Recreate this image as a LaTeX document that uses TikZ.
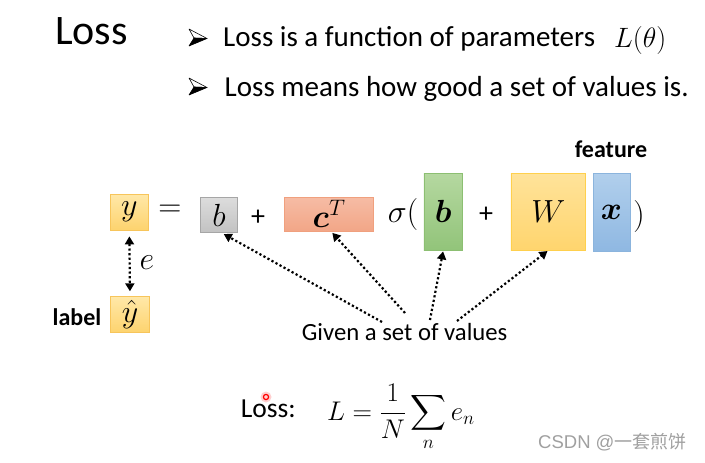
\RequirePackage{fix-cm}
\documentclass[tikz,border=0pt]{standalone}
\usepackage{amsmath,bm}
\usepackage{fontspec}
\setmainfont{Carlito}
\newfontfamily\cjkfont{Noto Sans CJK SC}
\newfontfamily\wmfont{Liberation Sans}
\usetikzlibrary{arrows.meta,calc}
\definecolor{ytop}{HTML}{FFE8A8}\definecolor{ybot}{HTML}{FDD36E}\definecolor{ybord}{HTML}{F7C55B}
\definecolor{gtop}{HTML}{DCDCDC}\definecolor{gbot}{HTML}{C2C2C2}\definecolor{gbord}{HTML}{A6A6A6}
\definecolor{stop}{HTML}{F6BCA5}\definecolor{sbot}{HTML}{F2A687}\definecolor{sbord}{HTML}{F0A07E}
\definecolor{grtop}{HTML}{B5D8A0}\definecolor{grbot}{HTML}{92C47A}\definecolor{grbord}{HTML}{8CBF72}
\definecolor{wtop}{HTML}{FFE39A}\definecolor{wbot}{HTML}{FFD56E}\definecolor{wbord}{HTML}{FFD04D}
\definecolor{btop}{HTML}{B1CFEC}\definecolor{bbot}{HTML}{8FB8E2}\definecolor{bbord}{HTML}{8BB4DD}
\definecolor{wmgray}{HTML}{A0A0A0}
\begin{document}
\begin{tikzpicture}[x=1pt,y=-1pt,
  box/.style={draw, line width=0.8pt, inner sep=0pt, font=\fontsize{32}{38}\selectfont},
  ybox/.style={box, draw=ybord, top color=ytop, bottom color=ybot},
  graybox/.style={box, draw=gbord, top color=gtop, bottom color=gbot},
  salbox/.style={box, draw=sbord, top color=stop, bottom color=sbot},
  grbox/.style={box, draw=grbord, top color=grtop, bottom color=grbot},
  wbox/.style={box, draw=wbord, top color=wtop, bottom color=wbot},
  bbox/.style={box, draw=bbord, top color=btop, bottom color=bbot},
  eqtext/.style={inner sep=0pt, font=\fontsize{32}{38}\selectfont},
  plustext/.style={inner sep=0pt, font=\fontsize{28}{34}\selectfont},
  dotarrow/.style={line width=2.2pt, dash pattern=on 2.2pt off 2.4pt, -{Triangle[length=8pt,width=9pt]}},
  bularrow/.pic={
    \filldraw[fill=white, draw=black, line width=0.6pt, line join=round] (-9,-9) -- (9,0.5) -- (-4,0) -- cycle;
    \filldraw[fill=black, draw=black, line width=0.6pt, line join=round] (-4,0) -- (9,0.5) -- (-9,8) -- cycle;
  }]
\useasboundingbox (0,0) rectangle (705,463);
\fill[white] (0,0) rectangle (705,463);

% title and bullets
\node[anchor=base west, inner sep=0pt, font=\fontsize{42}{50}\selectfont] (title) at (55,45) {Loss};
\pic at (198,38) {bularrow};
\pic at (198,87) {bularrow};
\node[anchor=base west, inner sep=0pt, font=\fontsize{29}{35}\selectfont] (t1) at (223,46.5) {Loss is a function of parameters};
\node[anchor=base west, inner sep=0pt, font=\fontsize{28}{34}\selectfont] (lt) at (614,47.5) {$L(\theta)$};
\node[anchor=base west, inner sep=0pt, font=\fontsize{29}{35}\selectfont] (t2) at (224.5,96) {Loss means how good a set of values is.};

% equation boxes
\node[ybox, minimum width=37.5pt, minimum height=36pt] (y) at (129.3,212) {$y$};
\node[eqtext] (eq) at (170,211) {$=$};
\node[graybox, minimum width=37.7pt, minimum height=35pt] (bg) at (219,215.2) {$b$};
\node[plustext] (p1) at (258,218) {+};
\node[salbox, minimum width=89.7pt, minimum height=34pt] (ct) at (329,214) {$\bm{c}^T$};
\node[eqtext] (sig) at (403,214) {$\sigma($};
\node[grbox, minimum width=38.7pt, minimum height=77pt] (gb) at (443.3,211.5) {$\bm{b}$};
\node[plustext] (p2) at (486,215) {+};
\node[wbox, minimum width=74.7pt, minimum height=77pt] (W) at (548.3,211.5) {$W$};
\node[bbox, minimum width=37pt, minimum height=78pt] (x) at (611.5,212) {$\bm{x}$};
\node[eqtext] (rp) at (639,216) {$)$};
\node[anchor=base, inner sep=0pt, font=\bfseries\fontsize{24}{29}\selectfont] (feat) at (611,157) {feature};

% label
\node[ybox, minimum width=38.3pt, minimum height=36pt] (yh) at (130,314.7) {$\hat{y}$};
\node[anchor=base west, inner sep=0pt, font=\bfseries\fontsize{24}{29}\selectfont] (lab) at (52.5,325) {label};
\draw[line width=2.2pt, dash pattern=on 2.2pt off 2.4pt, {Triangle[length=8pt,width=9pt]}-{Triangle[length=8pt,width=9pt]}, shorten <=6pt, shorten >=5pt] (y.south) -- (yh.north);
\node[eqtext] (e) at (147,263) {$e$};

% given
\node[anchor=base west, inner sep=0pt, font=\fontsize{24.7}{30}\selectfont] (given) at (301.7,340) {Given a set of values};
\coordinate (s1) at (382,322);
\coordinate (s2) at (405,313);
\coordinate (s3) at (430,320);
\coordinate (s4) at (457,321);
\draw[dotarrow, shorten >=2pt] (s1) -- ($(bg.south)+(3,0)$);
\draw[dotarrow, shorten >=2pt] (s2) -- ($(ct.south)+(2,0)$);
\draw[dotarrow, shorten >=1pt] (s3) -- (gb.south);
\draw[dotarrow, shorten >=1pt] (s4) -- (W.south);

% loss formula
\node[anchor=base west, inner sep=0pt, font=\fontsize{27.5}{33}\selectfont] (loss) at (240.7,417) {Loss:};
\node[anchor=base west, inner sep=0pt, font=\fontsize{27}{32}\selectfont] (form) at (327,420) {$\displaystyle L=\frac{1}{N}\sum_{n}e_n$};

% pointer dot
\fill[red!30, opacity=0.6] (266,397) circle (5.5);
\draw[red, line width=1.2pt] (266,397) circle (2.6);

% watermark
\node[anchor=base west, inner sep=0pt, text=wmgray] (wm) at (538,448) {{\wmfont\fontsize{18.5}{22}\selectfont CSDN @}{\cjkfont\fontsize{18}{22}\selectfont 一套煎饼}};
\end{tikzpicture}
\end{document}
